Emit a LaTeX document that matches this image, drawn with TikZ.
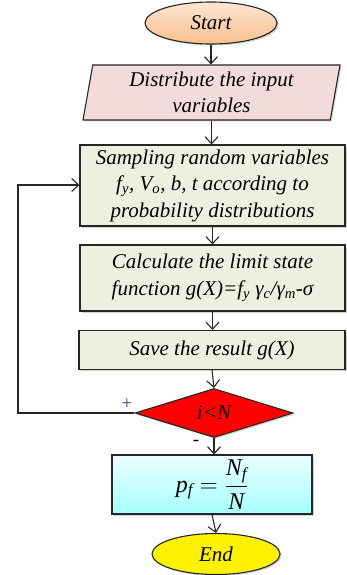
\documentclass[tikz,border=0pt]{standalone}
\usepackage{fontspec}
\setmainfont{Liberation Serif}
\usetikzlibrary{shapes.geometric,arrows.meta,shadows}
\begin{document}
\begin{tikzpicture}[x=1pt,y=-1pt,
  every node/.style={font=\fontsize{21}{26.5}\selectfont\itshape, align=center, inner sep=0pt},
  shp/.style={draw=black!85, line width=1.1pt, drop shadow={opacity=0.35, shadow xshift=1.5pt, shadow yshift=-1.5pt}},
  term/.style={shp, ellipse},
  arr/.style={draw=black!85, line width=1.1pt, -{Straight Barb[length=7pt,width=13pt,line width=1.1pt]}},
  sgn/.style={font=\fontsize{19}{19}\selectfont\upshape}
]
\definecolor{boxg}{HTML}{EBF1DE}
\definecolor{pinkp}{HTML}{F2DCDB}
\definecolor{peach}{HTML}{FAC08F}
\useasboundingbox (0,0) rectangle (346,575);
\node[term, top color=peach!40!white, bottom color=peach, minimum width=132pt, minimum height=42pt] (start) at (211,23) {Start};
\node[shp, trapezium, trapezium left angle=76.7, trapezium right angle=103.3, trapezium stretches body, fill=pinkp, minimum width=257pt, minimum height=55pt] (dist) at (211.5,92.5) {Distribute the input\\variables};
\node[shp, rectangle, fill=boxg, minimum width=265pt, minimum height=81pt] (samp) at (212.5,185.5) {Sampling random variables\\f\textsubscript{y}, V\textsubscript{o}, b, t according to\\probability distributions};
\node[shp, rectangle, fill=boxg, minimum width=265pt, minimum height=66pt] (calc) at (212.5,278) {Calculate the limit state\\function g(X)=f\textsubscript{y} γ\textsubscript{c}/γ\textsubscript{m}-σ};
\node[shp, rectangle, fill=boxg, minimum width=266pt, minimum height=39pt] (save) at (212,350) {Save the result g(X)};
\node[shp, diamond, fill=red, minimum width=158pt, minimum height=49pt] (dia) at (214,413) {i\textless N};
\node[shp, rectangle, top color=cyan!8!white, bottom color=cyan!35!white, minimum width=200pt, minimum height=59pt] (pf) at (212,484.5) {\fontsize{24}{28}\selectfont\upshape$\displaystyle \mathit{p}_{\mathit{f}} = \frac{\mathit{N}_{\mathit{f}}}{\mathit{N}}$};
\node[term, fill=yellow, minimum width=128pt, minimum height=41pt] (end) at (216,554) {End};
\coordinate (lp) at (18,185);
\draw[arr] (start.south) -- (start.south |- dist.north);
\draw[arr] (dist.south) -- (dist.south |- samp.north);
\draw[arr] (samp.south) -- (samp.south |- calc.north);
\draw[arr] (calc.south) -- (calc.south |- save.north);
\draw[arr] (save.south) -- (dia.north);
\draw[arr] (dia.south) -- (dia.south |- pf.north);
\draw[arr] (pf.south) -- (end.north);
\draw[arr] (dia.west) -| (lp) -- (samp.west |- lp);
\node[sgn, text=blue!20!black!75] (plus) at (127,404) {+};
\node[sgn] (minus) at (196,443) {-};
\end{tikzpicture}
\end{document}
